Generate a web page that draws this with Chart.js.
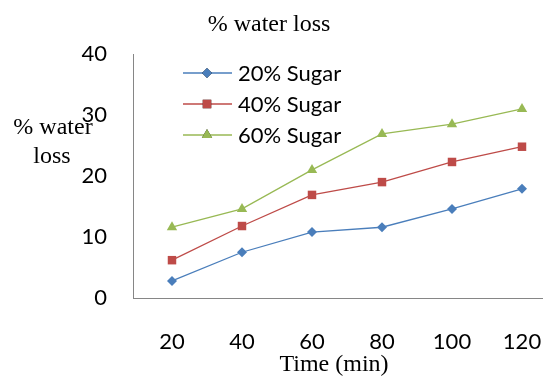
<!DOCTYPE html>
<html>
<head>
<meta charset="utf-8">
<script src="https://cdn.jsdelivr.net/npm/chart.js@4/dist/chart.umd.min.js"></script>
<style>
    html, body { margin: 0; padding: 0; background: #fff; overflow: hidden; }
    /* a bit wider than the window: the plot runs off the right edge in the original */
    #wrap { width: 549px; height: 378px; position: relative; }
</style>
</head>
<body>
<div id="wrap"><canvas id="lossChart"></canvas></div>
<script>
const times = [20, 40, 60, 80, 100, 120];
const sugar20 = [2.8, 7.5, 10.8, 11.6, 14.6, 17.9];
const sugar40 = [6.2, 11.8, 16.9, 19.0, 22.3, 24.8];
const sugar60 = [11.6, 14.6, 21.0, 26.9, 28.5, 31.0];
const seriesNames = ['20% Sugar', '40% Sugar', '60% Sugar'];
const yTicks = [0, 10, 20, 30, 40];

const serif = "'Liberation Serif', 'Times New Roman', serif";
const sans = "Lato, 'Open Sans', sans-serif";

function toPoints(values) {
    return values.map((v, i) => ({ x: times[i], y: v }));
}

// legend sits inside the plot, top left
const insideLegend = {
    id: 'insideLegend',
    afterDraw(chart) {
        const ctx = chart.ctx;
        ctx.save();
        chart.data.datasets.forEach((ds, i) => {
            const y = 73 + i * 31;
            ctx.strokeStyle = ds.borderColor;
            ctx.lineWidth = 1.3;
            ctx.beginPath();
            ctx.moveTo(183, y);
            ctx.lineTo(232, y);
            ctx.stroke();
            Chart.helpers.drawPoint(ctx, {
                pointStyle: ds.pointStyle,
                radius: ds.pointRadius,
                borderWidth: 0
            }, 207, y);
            ctx.fillStyle = ds.backgroundColor;
            ctx.fill();
            ctx.fillStyle = '#000';
            ctx.font = '22px ' + sans;
            ctx.textBaseline = 'middle';
            ctx.fillText(ds.label, 238, y + 1);
        });
        ctx.restore();
    }
};

const extraText = {
    id: 'extraText',
    afterDraw(chart) {
        const ctx = chart.ctx;
        ctx.save();
        ctx.fillStyle = '#000';
        ctx.textAlign = 'center';
        ctx.textBaseline = 'middle';
        ctx.font = '24px ' + serif;
        ctx.fillText('% water loss', 269, 25);
        ctx.fillText('% water', 53, 128);
        ctx.fillText('loss', 52, 157);
        ctx.fillText('Time (min)', 334, 365);
        ctx.restore();
    }
};

function makeSet(label, values, color, style) {
    return {
        label: label,
        data: toPoints(values),
        borderColor: color,
        backgroundColor: color,
        borderWidth: 1.3,
        pointStyle: style,
        pointRadius: style === 'rectRot' ? 5 : 6,
        pointBorderWidth: 0,
        tension: 0
    };
}

new Chart(document.getElementById('lossChart'), {
    type: 'line',
    data: {
        datasets: [
            makeSet(seriesNames[0], sugar20, '#4a7ebb', 'rectRot'),
            makeSet(seriesNames[1], sugar40, '#be4b48', 'rect'),
            makeSet(seriesNames[2], sugar60, '#98b954', 'triangle')
        ]
    },
    options: {
        responsive: true,
        maintainAspectRatio: false,
        animation: false,
        layout: { padding: { top: 54, right: 0, left: 0, bottom: 0 } },
        plugins: {
            legend: { display: false },
            title: { display: false },
            tooltip: { enabled: false }
        },
        scales: {
            x: {
                type: 'linear',
                min: 8.86,
                max: 126,
                grid: { display: false },
                border: { display: true, color: '#868686', width: 1 },
                afterBuildTicks: scale => { scale.ticks = times.map(v => ({ value: v })); },
                afterFit: scale => {
                    scale.height = 80;
                    scale.paddingLeft = 0;
                    scale.paddingRight = 0;
                },
                ticks: {
                    color: '#000',
                    padding: 23,
                    maxRotation: 0,
                    font: { family: sans, size: 22 }
                }
            },
            y: {
                min: 0,
                max: 40,
                grid: { display: false },
                border: { display: true, color: '#868686', width: 1 },
                afterBuildTicks: scale => { scale.ticks = yTicks.map(v => ({ value: v })); },
                afterFit: scale => {
                    scale.width = 133;
                    scale.paddingTop = 0;
                    scale.paddingBottom = 0;
                },
                ticks: {
                    color: '#000',
                    padding: 18,
                    font: { family: sans, size: 22 }
                }
            }
        }
    },
    plugins: [insideLegend, extraText]
});
</script>
</body>
</html>
